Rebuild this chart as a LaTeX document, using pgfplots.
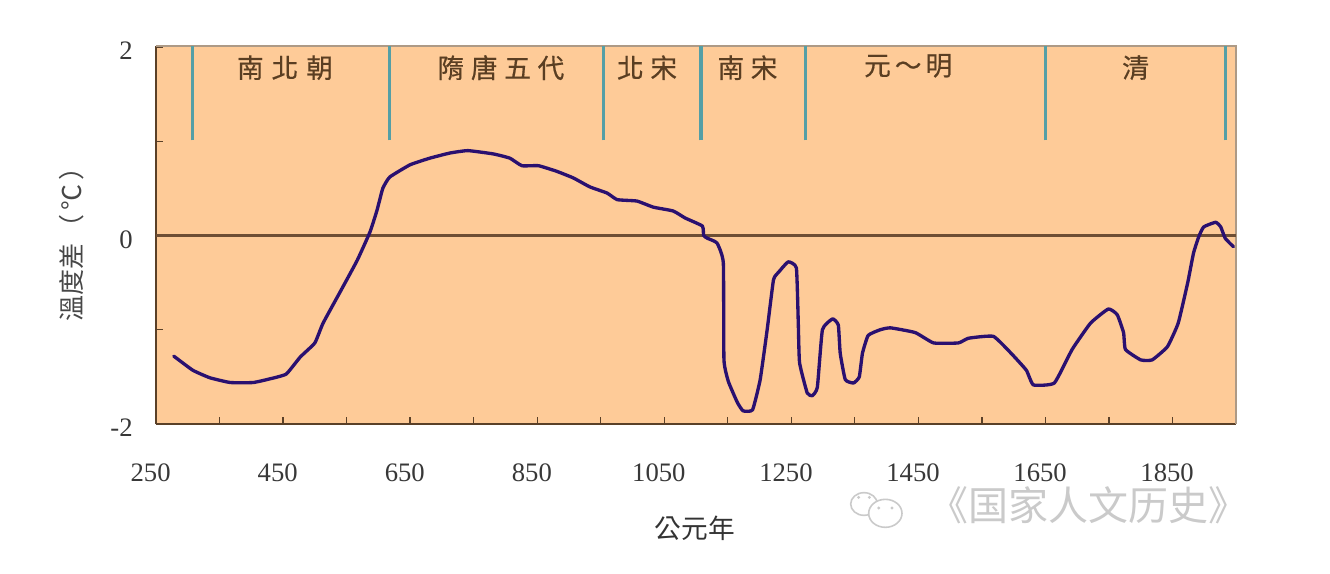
\documentclass[border=0pt]{standalone}
\usepackage{fontspec}
\usepackage{pgfplots}
\pgfplotsset{compat=1.18}
\setmainfont{Liberation Serif}
\newfontfamily\cjk{Noto Sans CJK TC}
\newfontfamily\cjkb[FakeBold=0.5]{Noto Sans CJK TC}
\newfontfamily\cjksc{Noto Sans CJK SC}
\definecolor{bgo}{HTML}{FECB98}
\definecolor{curve}{HTML}{2A1070}
\definecolor{teal2}{HTML}{549FA6}
\definecolor{axbrown}{HTML}{5A4028}
\definecolor{frame2}{HTML}{AD9A86}
\definecolor{eratxt}{HTML}{5A3E22}
\definecolor{zeroline}{HTML}{6E4E34}
\definecolor{wm}{HTML}{CACACA}
\begin{document}
\begin{tikzpicture}[x=1pt,y=1pt]
\path[use as bounding box] (-117,-112.5) rectangle (880.5,318);
\begin{axis}[
  at={(0,0)},anchor=south west,
  scale only axis,width=810pt,height=283.5pt,
  xmin=250,xmax=1950,ymin=-2,ymax=2.01,
  axis background/.style={fill=bgo},
  axis line style={draw=axbrown,line width=1pt},
  axis x line*=bottom,axis y line*=left,
  tick align=inside,major tick length=5pt,
  tick style={draw=axbrown,line width=1pt},
  xtick={250,350,...,1950},
  xticklabels={250,,450,,650,,850,,1050,,1250,,1450,,1650,,1850,},
  ytick={-2,-1,0,1,2},
  yticklabels={-2,,0,,2},
  scaled ticks=false,
  /pgf/number format/assume math mode=true,
  x tick label style={font=\fontsize{20}{22}\selectfont,text=black!78,xshift=-4pt,yshift=-26pt},
  y tick label style={font=\fontsize{20}{22}\selectfont,text=black!78,xshift=-14pt,yshift=-3pt},
  xlabel={\cjk 公元年},
  ylabel={\cjk 溫度差\hspace{2pt}（\hspace{3pt}℃\hspace{3pt}）},
  xlabel style={at={(axis description cs:0.499,-0.275)},anchor=center,font=\fontsize{20}{22}\selectfont,text=black!80},
  ylabel style={at={(axis description cs:-0.0778,0.492)},anchor=center,font=\fontsize{19.5}{22}\selectfont,text=black!72},
  clip=false,
]
% frame top and right
\addplot[frame2,line width=1.3pt,forget plot] coordinates {(250,2.01) (1950,2.01) (1950,-2)};
% zero line
\addplot[zeroline,line width=1.6pt,forget plot] coordinates {(250,0) (1950,0)};
% dynasty dividers
\addplot[teal2,line width=2.4pt,forget plot] coordinates {(308,1.01) (308,2.01)};
\addplot[teal2,line width=2.4pt,forget plot] coordinates {(617,1.01) (617,2.01)};
\addplot[teal2,line width=2.4pt,forget plot] coordinates {(955,1.01) (955,2.01)};
\addplot[teal2,line width=2.4pt,forget plot] coordinates {(1108,1.01) (1108,2.01)};
\addplot[teal2,line width=2.4pt,forget plot] coordinates {(1272,1.01) (1272,2.01)};
\addplot[teal2,line width=2.4pt,forget plot] coordinates {(1650,1.01) (1650,2.01)};
\addplot[teal2,line width=2.4pt,forget plot] coordinates {(1933,1.01) (1933,2.01)};
% temperature curve
\addplot[curve,line width=2.5pt,line join=round,line cap=round,smooth,tension=0.25] coordinates {
(278,-1.28)(308,-1.43)(335,-1.51)(367,-1.56)(403,-1.56)(430,-1.52)(455,-1.47)(477,-1.29)(500,-1.14)
(513,-0.93)(543,-0.56)(567,-0.26)(587,0.04)(598,0.27)(607,0.50)(618,0.62)(650,0.75)(681,0.82)
(713,0.875)(741,0.90)(781,0.865)(807,0.82)(826,0.74)(852,0.74)(881,0.68)(907,0.61)(933,0.515)
(960,0.45)(976,0.38)(1007,0.365)(1033,0.30)(1064,0.26)(1083,0.185)(1110,0.10)(1112,0.0)(1118,-0.03)
(1133,-0.08)(1143,-0.29)(1144,-1.32)(1151,-1.55)(1165,-1.77)(1174,-1.86)(1189,-1.85)(1201,-1.53)
(1212,-1.0)(1222,-0.47)(1230,-0.39)(1245,-0.28)(1258,-0.345)(1261,-0.93)(1263,-1.35)(1275,-1.67)
(1283,-1.70)(1291,-1.61)(1299,-1.0)(1315,-0.885)(1324,-0.95)(1327,-1.25)(1335,-1.53)(1348,-1.565)
(1357,-1.50)(1362,-1.25)(1371,-1.06)(1390,-1.0)(1406,-0.98)(1445,-1.03)(1474,-1.14)(1513,-1.14)
(1529,-1.09)(1568,-1.07)(1596,-1.25)(1620,-1.43)(1631,-1.585)(1664,-1.565)(1692,-1.21)(1721,-0.93)
(1749,-0.78)(1763,-0.84)(1773,-1.03)(1776,-1.21)(1800,-1.32)(1818,-1.32)(1842,-1.18)(1859,-0.93)
(1874,-0.50)(1883,-0.19)(1891,-0.02)(1899,0.09)(1918,0.14)(1926,0.09)(1933,-0.03)(1946,-0.12)
};
% dynasty names
\begin{scope}[every node/.style={font=\cjkb\fontsize{20}{22}\selectfont,text=eratxt,anchor=center}]
\node at (axis cs:453,1.78) {南\hspace{6pt}北\hspace{6pt}朝};
\node at (axis cs:793,1.78) {隋\hspace{5pt}唐\hspace{5pt}五\hspace{5pt}代};
\node at (axis cs:1023,1.78) {北\hspace{5pt}宋};
\node at (axis cs:1181,1.78) {南\hspace{5pt}宋};
\node at (axis cs:1434,1.80) {元\hspace{3pt}～\hspace{3pt}明};
\node at (axis cs:1792,1.78) {清};
\end{scope}
\end{axis}
% watermark
\node[font=\cjksc\fontsize{30}{32}\selectfont,text=wm,anchor=center,inner sep=0pt] at (699,-61) {《国家人文历史》};
\draw[wm,line width=1.2pt] (531,-60) ellipse (10pt and 8.5pt);
\draw[wm,line width=1.2pt,fill=white] (547,-67) ellipse (12.5pt and 10.5pt);
\fill[wm] (527,-55) circle (1.2pt) (535,-55) circle (1.2pt) (542,-63) circle (1.2pt) (552,-63) circle (1.2pt);
\end{tikzpicture}
\end{document}
